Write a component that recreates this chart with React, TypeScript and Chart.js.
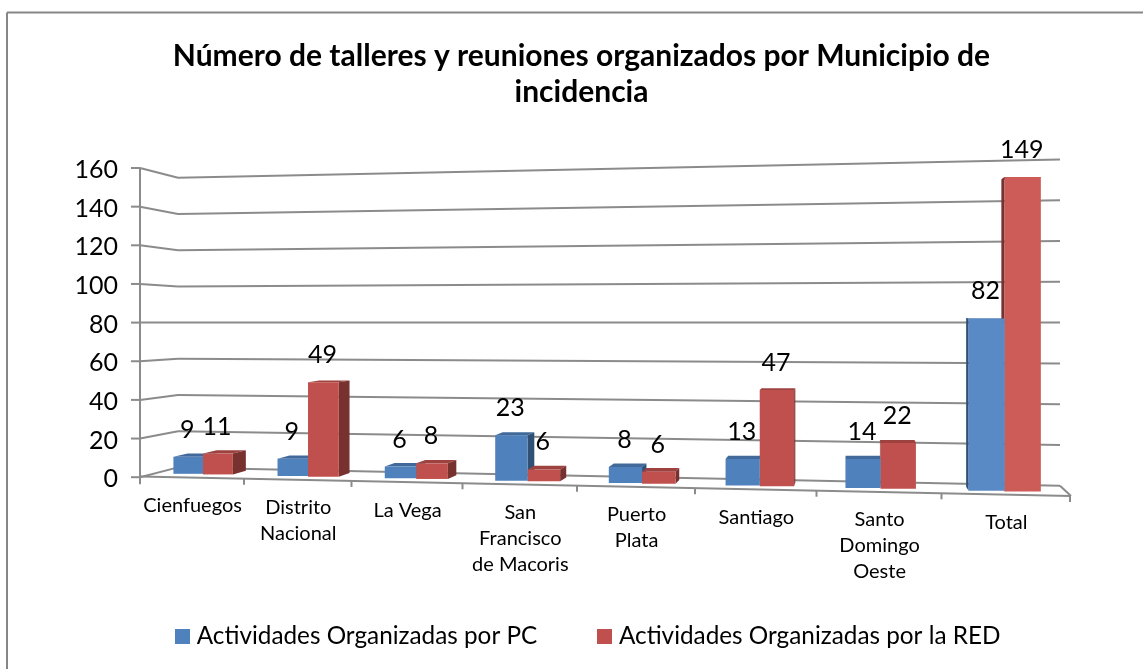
import React, { useEffect, useRef } from "react";
import { Chart, registerables } from "chart.js";

Chart.register(...registerables);

const categories: (string | string[])[] = [
  "Cienfuegos",
  ["Distrito", "Nacional"],
  "La Vega",
  ["San", "Francisco", "de Macoris"],
  ["Puerto", "Plata"],
  "Santiago",
  ["Santo", "Domingo", "Oeste"],
  "Total",
];
const seriesPC = [9, 9, 6, 23, 8, 13, 14, 82];
const seriesRED = [11, 49, 8, 6, 6, 47, 22, 149];
const seriesNames = ["Actividades Organizadas por PC", "Actividades Organizadas por la RED"];
const titleLines = ["Número de talleres y reuniones organizados por Municipio de", "incidencia"];

const FONT = "Lato, Carlito, Calibri, sans-serif";
const GRID = "#8b8b8b";
const BLUE = "#4F81BD";
const RED = "#C0504D";
const BLUE_TOTAL = "#5A8AC6";
const RED_TOTAL = "#CD5C58";

// Perspective of the 3-D plot.
const quad = (a: number, b: number, c: number, u: number) => a + b * u + c * u * u;
const barX = (u: number) => quad(151.7, 814.7, 101.4, u);
const frontX = (u: number) => quad(140, 818, 112, u);
const frontY = (x: number) => 476.5 + 0.021 * (x - 140);
const scaleFront = (x: number) => 1.89 + (x - 188) * 0.000264;
const scaleBack = (x: number) => 1.81 + (x - 178) * 0.000261;
const VP = { x: 850, y: 300, r: 0.021 };
const back = (x: number, y: number) => [x + (VP.x - x) * VP.r, y + (VP.y - y) * VP.r];

function shade(hex: string, f: number) {
  const n = parseInt(hex.slice(1), 16);
  const c = [(n >> 16) & 255, (n >> 8) & 255, n & 255].map((v) => Math.round(v * f));
  return `rgb(${c[0]},${c[1]},${c[2]})`;
}

function poly(ctx: CanvasRenderingContext2D, pts: number[][], fill: string) {
  ctx.beginPath();
  pts.forEach((p, i) => (i ? ctx.lineTo(p[0], p[1]) : ctx.moveTo(p[0], p[1])));
  ctx.closePath();
  ctx.fillStyle = fill;
  ctx.fill();
}

function seg(ctx: CanvasRenderingContext2D, x1: number, y1: number, x2: number, y2: number) {
  ctx.beginPath();
  ctx.moveTo(x1, y1);
  ctx.lineTo(x2, y2);
  ctx.stroke();
}

const perspectivePlugin = {
  id: "perspective",
  afterLayout(chart: any) {
    // optical centring of the blocks, which sit off-centre in the picture
    chart.titleBlock.left += 46;
    chart.titleBlock.right += 46;
    const lg = chart.legend;
    lg.left += 55;
    lg.right += 55;
    lg.top = 636 - 12 - 65.5;
  },
  afterDatasetsUpdate(chart: any) {
    const { left, right } = chart.chartArea;
    const yS = chart.scales.y;
    const pivot = yS.getPixelForValue(80);
    const unit = yS.getPixelForValue(0) - yS.getPixelForValue(1);
    chart.data.datasets.forEach((_: any, d: number) => {
      chart.getDatasetMeta(d).data.forEach((el: any) => {
        if (el.$warped) return;
        el.$warped = true;
        const l = barX((el.x - el.width / 2 - left) / (right - left));
        const r = barX((el.x + el.width / 2 - left) / (right - left));
        const cx = (l + r) / 2;
        const k = scaleFront(cx) / unit;
        el.x = cx;
        el.width = r - l;
        el.y = pivot + (el.y - pivot) * k;
        el.base = pivot + (el.base - pivot) * k;
      });
    });
  },
  beforeDraw(chart: any) {
    const ctx: CanvasRenderingContext2D = chart.ctx;
    const { left, right } = chart.chartArea;
    const xS = chart.scales.x;
    const yS = chart.scales.y;
    ctx.save();
    ctx.fillStyle = "#ffffff";
    ctx.fillRect(0, 0, chart.width, chart.height);
    // outer frame: top and left only
    ctx.strokeStyle = "#868686";
    ctx.lineWidth = 2;
    seg(ctx, chart.width, 12.5, 7, 12.5);
    seg(ctx, 7, 12.5, 7, chart.height);
    ctx.restore();

    // x tick labels follow the front edge of the floor
    xS.getLabelItems(chart.chartArea).forEach((item: any, i: number) => {
      const u = (xS.getPixelForTick(i) - left) / (right - left);
      const x = frontX(u);
      item.options.translation = [x + 1, frontY(x) + 18];
      item.textOffset = 0;
      item.options.textBaseline = "top";
    });
    yS.getLabelItems(chart.chartArea).forEach((item: any) => {
      if (item.$moved) return;
      item.$moved = true;
      item.options.translation = [item.options.translation[0], item.options.translation[1] + 2];
    });

    // walls and grid
    const pivot = yS.getPixelForValue(80);
    const unit = yS.getPixelForValue(0) - yS.getPixelForValue(1);
    const bx0 = 178;
    const bx1 = 1060;
    ctx.save();
    ctx.strokeStyle = GRID;
    ctx.lineWidth = 2;
    yS.ticks.forEach((t: any) => {
      const y = yS.getPixelForValue(t.value);
      const v = (y - pivot) / unit;
      const yb0 = pivot + v * scaleBack(bx0);
      const yb1 = pivot + v * scaleBack(bx1);
      seg(ctx, 131, y, left, y);
      seg(ctx, left, y, bx0, yb0);
      seg(ctx, bx0, yb0, bx1, yb1);
      if (t.value === 0) seg(ctx, bx1, yb1, 1071, frontY(1071));
    });
    seg(ctx, left, yS.getPixelForValue(160), left, yS.getPixelForValue(0) + 7);
    seg(ctx, left, frontY(left), 1071, frontY(1071));
    for (let i = 1; i <= categories.length; i++) {
      const x = frontX(i / categories.length);
      seg(ctx, x, frontY(x), x, frontY(x) + 6);
    }
    ctx.restore();
  },
  beforeDatasetsDraw(chart: any) {
    const ctx: CanvasRenderingContext2D = chart.ctx;
    const metas = [chart.getDatasetMeta(0), chart.getDatasetMeta(1)];
    const cols = [BLUE, RED];
    categories.forEach((_, i) => {
      [0, 1].forEach((d) => {
        const el = metas[d].data[i];
        const l = el.x - el.width / 2;
        const r = el.x + el.width / 2;
        const t = el.y;
        const b = el.base;
        const col = cols[d];
        // top
        poly(ctx, [[l, t], [r, t], back(r, t), back(l, t)], shade(col, 0.82));
        // side
        const sx = r < VP.x ? r : l;
        poly(ctx, [[sx, t], back(sx, t), back(sx, b), [sx, b]], shade(col, 0.62));
      });
    });
  },
  afterDatasetsDraw(chart: any) {
    const ctx: CanvasRenderingContext2D = chart.ctx;
    ctx.save();
    ctx.fillStyle = "#000";
    ctx.font = `25px ${FONT}`;
    ctx.textAlign = "center";
    ctx.textBaseline = "middle";
    chart.data.datasets.forEach((ds: any, d: number) => {
      chart.getDatasetMeta(d).data.forEach((el: any, i: number) => {
        ctx.fillText(String(ds.data[i]), el.x - 1, el.y - 27);
      });
    });
    ctx.restore();
  },
};

function legendSwatch(color: string) {
  const c = document.createElement("canvas");
  c.width = 15;
  c.height = 15;
  const g = c.getContext("2d")!;
  g.fillStyle = color;
  g.fillRect(0, 0, 15, 15);
  return c;
}

export default function App() {
  const ref = useRef<HTMLCanvasElement>(null);
  useEffect(() => {
    document.body.style.margin = "0";
    const swatches = [legendSwatch(BLUE), legendSwatch(RED)];
    const chart = new Chart(ref.current!, {
      type: "bar",
      data: {
        labels: categories as any,
        datasets: [
          {
            label: seriesNames[0],
            data: seriesPC,
            backgroundColor: seriesPC.map((_, i) => (i === 7 ? BLUE_TOTAL : BLUE)),
            barPercentage: 1,
            categoryPercentage: 0.575,
            clip: false,
          },
          {
            label: seriesNames[1],
            data: seriesRED,
            backgroundColor: seriesRED.map((_, i) => (i === 7 ? RED_TOTAL : RED)),
            barPercentage: 1,
            categoryPercentage: 0.575,
            clip: false,
          },
        ],
      },
      options: {
        responsive: false,
        animation: false,
        layout: { padding: { left: 0, right: 72, top: 0, bottom: -50 } },
        plugins: {
          tooltip: { enabled: false },
          title: {
            display: true,
            text: titleLines,
            color: "#000",
            font: { family: FONT, size: 30, weight: "bold", lineHeight: 36 / 30 },
            padding: { top: 38, bottom: 58 },
          },
          legend: {
            position: "bottom",
            labels: {
              color: "#000",
              font: { family: FONT, size: 24.3 },
              usePointStyle: true,
              pointStyleWidth: 4,
              padding: 65.5,
              generateLabels(c: any) {
                return Chart.defaults.plugins.legend.labels
                  .generateLabels(c)
                  .map((it: any, i: number) => ({ ...it, pointStyle: swatches[i] }));
              },
            },
          },
        },
        scales: {
          x: {
            grid: { display: false },
            border: { display: false },
            afterFit(s: any) {
              s.height = 142;
            },
            ticks: {
              color: "#000",
              autoSkip: false,
              maxRotation: 0,
              minRotation: 0,
              font: { family: FONT, size: 20, lineHeight: 26 / 20 },
            },
          },
          y: {
            min: 0,
            max: 160,
            grid: { display: false },
            border: { display: false },
            afterFit(s: any) {
              s.width = 140;
            },
            ticks: {
              stepSize: 20,
              color: "#000",
              padding: 14,
              font: { family: FONT, size: 25 },
            },
          },
        },
      },
      plugins: [perspectivePlugin],
    } as any);
    return () => chart.destroy();
  }, []);
  return <canvas ref={ref} width={1143} height={669} style={{ display: "block" }} />;
}
